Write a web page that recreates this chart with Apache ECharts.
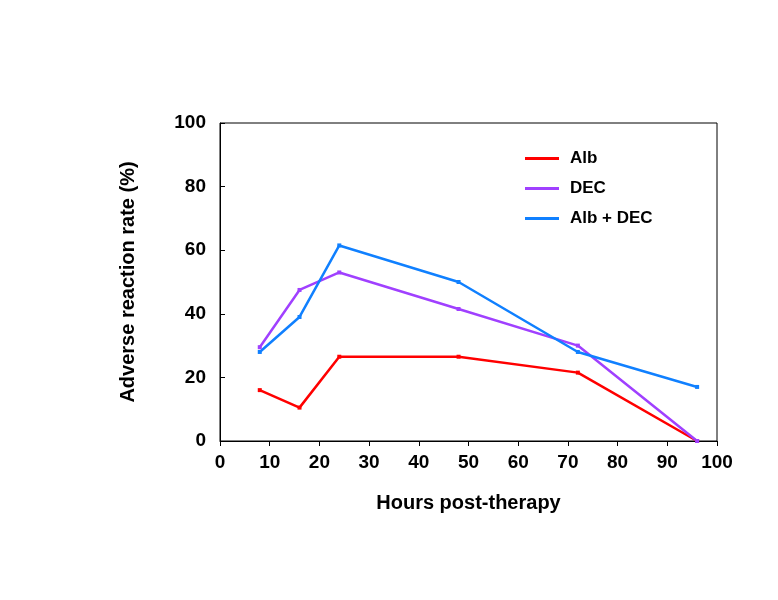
<!DOCTYPE html>
<html><head><meta charset="utf-8">
<script src="https://cdn.jsdelivr.net/npm/echarts@6/dist/echarts.min.js"></script>
<style>html,body{margin:0;padding:0;background:#fff}#c{width:778px;height:600px}</style>
</head><body><div id="c"></div>
<script>
const hours = [8, 16, 24, 48, 72, 96];
const alb = [16, 10.5, 26.5, 26.5, 21.5, 0];
const dec = [29.5, 47.5, 53, 41.5, 30, 0];
const albDec = [28, 39, 61.5, 50, 28, 17];
const names = ['Alb', 'DEC', 'Alb + DEC'];
const colors = ['#ff0000', '#a040ff', '#1080ff'];
const font = 'Liberation Sans, Arial, sans-serif';
function pts(v){return hours.map((h,i)=>[h,v[i]]);}
const chart = echarts.init(document.getElementById('c'));
chart.setOption({
  animation:false,
  grid:{left:220,right:61,top:123,bottom:159,show:true,borderColor:'#000',borderWidth:1},
  legend:{orient:'vertical',left:520,top:145,itemGap:13,itemWidth:34,itemHeight:3,
    icon:'rect',textStyle:{fontFamily:font,fontWeight:'bold',fontSize:17,color:'#000',padding:[0,0,0,6]},data:names},
  xAxis:{type:'value',min:0,max:100,interval:10,name:'Hours post-therapy',nameLocation:'middle',nameGap:52,
    nameTextStyle:{fontFamily:font,fontWeight:'bold',fontSize:20,color:'#000'},
    axisLine:{lineStyle:{color:'#000'}},axisTick:{lineStyle:{color:'#000'},length:5},
    axisLabel:{fontFamily:font,fontWeight:'bold',fontSize:19,color:'#000',margin:12},splitLine:{show:false}},
  yAxis:{type:'value',min:0,max:100,interval:20,name:'Adverse reaction rate (%)',nameLocation:'middle',nameGap:82,
    nameTextStyle:{fontFamily:font,fontWeight:'bold',fontSize:20,color:'#000'},
    axisLine:{show:true,lineStyle:{color:'#000'}},axisTick:{show:true,inside:true,lineStyle:{color:'#000'},length:5},
    axisLabel:{fontFamily:font,fontWeight:'bold',fontSize:19,color:'#000',margin:14},splitLine:{show:false}},
  series:[alb,dec,albDec].map((v,i)=>({name:names[i],type:'line',data:pts(v),symbol:'rect',symbolSize:4,
    lineStyle:{color:colors[i],width:2.5},itemStyle:{color:colors[i]}}))
});
</script></body></html>
